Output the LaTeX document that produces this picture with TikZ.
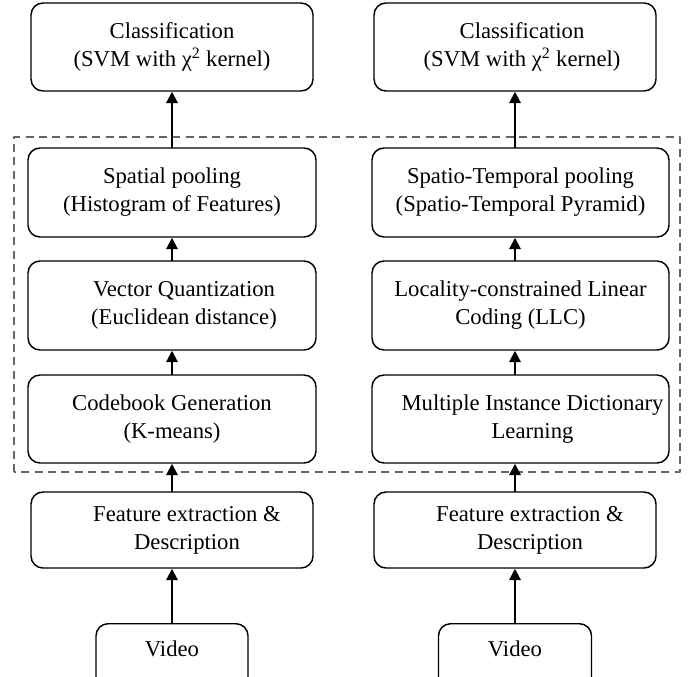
\documentclass[tikz,border=0pt]{standalone}
\usepackage{fontspec}
\setmainfont{Liberation Serif}
\usetikzlibrary{arrows.meta}
\definecolor{qqgray}{rgb}{0.4,0.4,0.4}
\begin{document}
\begin{tikzpicture}[line cap=round,line join=round,>={Triangle[length=8.5pt,width=8.5pt]},x=0.75pt,y=0.75pt,
  blk/.style={draw,rounded corners=9pt,line width=1.1pt,align=center,inner sep=0pt,font=\fontsize{17}{21}\selectfont},
  arr/.style={->,line width=1.5pt}]
\useasboundingbox (0,0) rectangle (691,676);
\clip (0,0) rectangle (691,676);
%dashed frame round the middle stages
\draw [color=qqgray,line width=1.5pt,line cap=butt,dash pattern=on 6pt off 4pt] (14,204) rectangle (680,539);
%left column
\node [blk,minimum width=211.5pt,minimum height=66pt] (cls1) at (172,629) {Classification\\(SVM with χ\textsuperscript{2} kernel)};
\node [blk,minimum width=216pt,minimum height=66.75pt] (pool1) at (172,483.5) {Spatial pooling\\(Histogram of Features)};
\node [blk,minimum width=216pt,minimum height=66.75pt] (vq1) at (172,370.5) {\hspace*{18pt}Vector Quantization\\\hspace*{18pt}(Euclidean distance)};
\node [blk,minimum width=216pt,minimum height=66pt] (cb1) at (172,257) {Codebook Generation\\(K-means)};
\node [blk,minimum width=211.5pt,minimum height=57pt] (feat1) at (172,146) {\hspace*{22.5pt}Feature extraction \&\\\hspace*{22.5pt}Description};
\node [blk,minimum width=114pt,anchor=north,inner ysep=13pt,text depth=30pt] (vid1) at (172,53) {Video};
%right column
\node [blk,minimum width=211.5pt,minimum height=66pt] (cls2) at (515,629) {\hspace*{10.5pt}Classification\\\hspace*{10.5pt}(SVM with χ\textsuperscript{2} kernel)};
\node [blk,minimum width=222.75pt,minimum height=66.75pt] (pool2) at (520.5,483.5) {Spatio-Temporal pooling\\(Spatio-Temporal Pyramid)};
\node [blk,minimum width=222.75pt,minimum height=66.75pt] (llc2) at (520.5,370.5) {Locality-constrained Linear\\Coding (LLC)};
\node [blk,minimum width=222.75pt,minimum height=66pt] (dict2) at (520.5,257) {\hspace*{18pt}Multiple Instance Dictionary\\\hspace*{18pt}Learning};
\node [blk,minimum width=211.5pt,minimum height=57pt] (feat2) at (515,146) {\hspace*{22.5pt}Feature extraction \&\\\hspace*{22.5pt}Description};
\node [blk,minimum width=114.75pt,anchor=north,inner ysep=13pt,text depth=30pt] (vid2) at (515,53) {Video};
%arrows
\draw [arr] (vid1) -- (feat1);
\draw [arr] (feat1) -- (cb1);
\draw [arr] (cb1) -- (vq1);
\draw [arr] (vq1) -- (pool1);
\draw [arr] (pool1) -- (cls1);
\draw [arr] (vid2) -- (feat2);
\draw [arr] (feat2.north) -- (feat2.north |- dict2.south);
\draw [arr] (dict2.north -| feat2) -- (llc2.south -| feat2);
\draw [arr] (llc2.north -| feat2) -- (pool2.south -| feat2);
\draw [arr] (pool2.north -| feat2) -- (cls2.south);
\end{tikzpicture}
\end{document}
